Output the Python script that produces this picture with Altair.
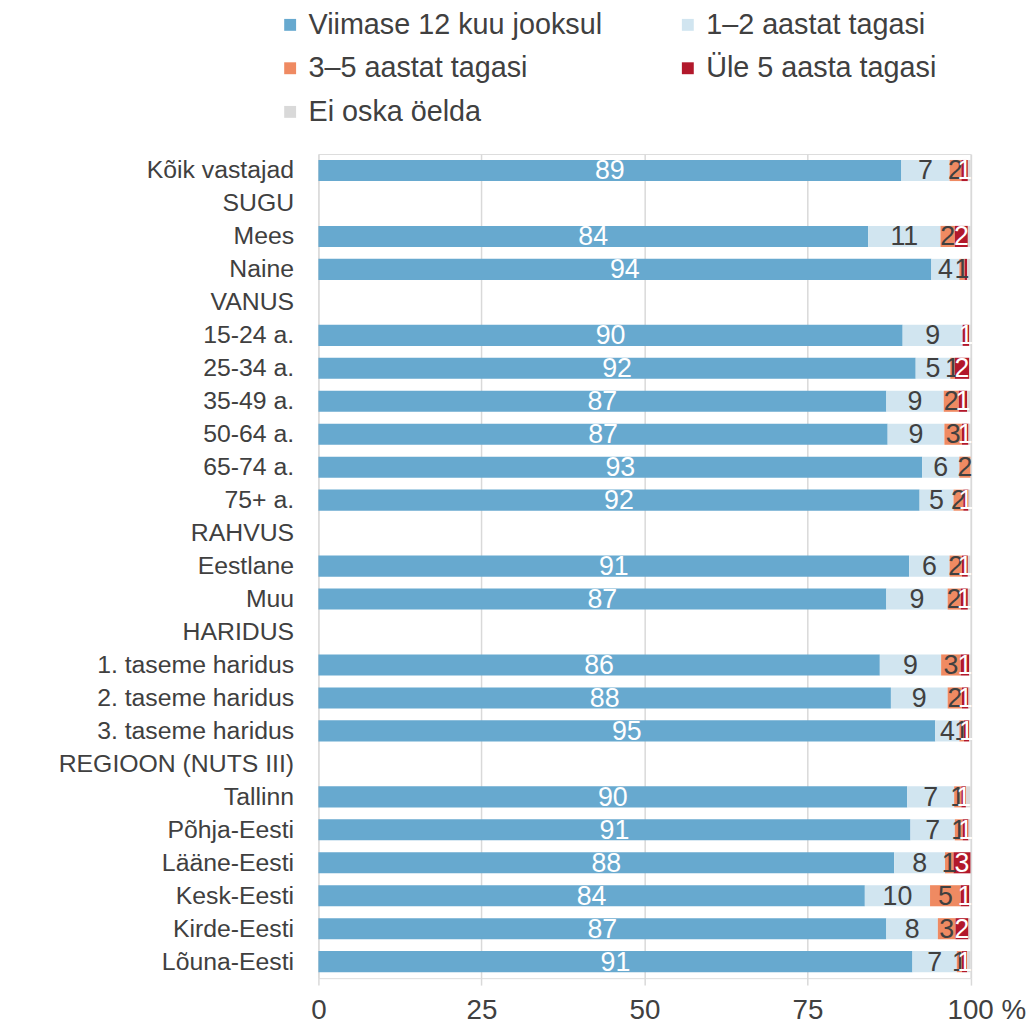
import altair as alt
import pandas as pd

categories = ["Kõik vastajad", "SUGU", "Mees", "Naine", "VANUS", "15-24 a.", "25-34 a.",
              "35-49 a.", "50-64 a.", "65-74 a.", "75+ a.", "RAHVUS", "Eestlane", "Muu",
              "HARIDUS", "1. taseme haridus", "2. taseme haridus", "3. taseme haridus",
              "REGIOON (NUTS III)", "Tallinn", "Põhja-Eesti", "Lääne-Eesti", "Kesk-Eesti",
              "Kirde-Eesti", "Lõuna-Eesti"]

bar_rows = ["Kõik vastajad", "Mees", "Naine", "15-24 a.", "25-34 a.", "35-49 a.", "50-64 a.",
            "65-74 a.", "75+ a.", "Eestlane", "Muu", "1. taseme haridus", "2. taseme haridus",
            "3. taseme haridus", "Tallinn", "Põhja-Eesti", "Lääne-Eesti", "Kesk-Eesti",
            "Kirde-Eesti", "Lõuna-Eesti"]

series = ["Viimase 12 kuu jooksul", "1–2 aastat tagasi", "3–5  aastat tagasi",
          "Üle 5 aasta tagasi", "Ei oska öelda"]
colors = ["#67a9cf", "#d1e5f0", "#ef8a62", "#b2182b", "#d9d9d9"]
label_colors = ["#ffffff", "#404040", "#404040", "#ffffff", "#404040"]

viimase = [89.4, 84.3, 94.0, 89.6, 91.6, 87.1, 87.3, 92.6, 92.2, 90.6, 87.1, 86.1, 87.8, 94.6,
           90.3, 90.8, 88.3, 83.8, 87.1, 91.1]
aastat_1_2 = [7.4, 11.1, 4.3, 9.2, 5.3, 8.8, 8.7, 5.7, 5.2, 6.2, 9.4, 9.4, 8.7, 3.7,
              7.2, 6.8, 7.8, 10.0, 7.9, 6.8]
aastat_3_5 = [1.8, 2.2, 0.8, 0.0, 0.7, 2.3, 2.7, 1.7, 1.5, 1.9, 2.0, 3.0, 2.2, 0.7,
              1.1, 1.2, 1.3, 4.7, 2.7, 0.8]
yle_5 = [1.0, 2.0, 0.4, 1.0, 2.2, 1.3, 1.0, 0.0, 0.8, 0.9, 1.1, 1.3, 1.0, 0.8,
         0.7, 0.9, 2.6, 1.3, 2.0, 0.8]
ei_oska = [0.4, 0.4, 0.5, 0.2, 0.2, 0.5, 0.3, 0.0, 0.3, 0.4, 0.4, 0.2, 0.3, 0.2,
           0.7, 0.3, 0.0, 0.2, 0.3, 0.5]

values_by_series = [viimase, aastat_1_2, aastat_3_5, yle_5, ei_oska]

records = []
for si, (s, vals) in enumerate(zip(series, values_by_series)):
    for cat, v in zip(bar_rows, vals):
        r = int(v + 0.5)
        records.append({
            "cat": cat,
            "series": s,
            "value": v,
            "order": si,
            "tc": label_colors[si],
            "showlab": 1 if (si < 4 and r >= 1) else 0,
            "lab": str(r),
        })
df = pd.DataFrame(records)

FONT = "Liberation Sans"
ydomain = alt.Scale(domain=categories, paddingInner=0.36, paddingOuter=0.18)

y_enc = alt.Y("cat:N", scale=ydomain,
              axis=alt.Axis(title=None, labelFontSize=25, labelColor="#404040", labelPadding=25,
                            ticks=False, domain=False, labelLimit=400, labelFont=FONT,
                            grid=False))

x_axis = alt.Axis(title=None, values=[0, 25, 50, 75, 100], grid=True, gridColor="#d9d9d9",
                  gridWidth=1.5, domain=False, ticks=True, tickColor="#d9d9d9", tickSize=7,
                  tickWidth=1.5, labelFontSize=28, labelColor="#404040", labelFont=FONT,
                  labelPadding=12, labelFlush=False, labelOverlap=False,
                  labelExpr="datum.value == 100 ? '100 %' : datum.label",
                  labelOffset={"condition": {"test": "datum.value == 100", "value": 16}, "value": 0})

bars = alt.Chart(df).mark_bar().encode(
    y=y_enc,
    x=alt.X("value:Q", stack="zero", scale=alt.Scale(domain=[0, 100], nice=False), axis=x_axis),
    color=alt.Color("series:N", scale=alt.Scale(domain=series, range=colors),
                    legend=alt.Legend(orient="none", legendX=-43, legendY=-145, columns=2,
                                      direction="horizontal", title=None, symbolType="square",
                                      symbolSize=144, symbolStrokeWidth=0, symbolOpacity=1,
                                      labelFontSize=29, labelColor="#404040", labelFont=FONT,
                                      labelLimit=500, labelOffset=4, rowPadding=14,
                                      columnPadding=71, padding=0)),
    order=alt.Order("order:Q", sort="ascending"),
)

labels = alt.Chart(df).transform_stack(
    stack="value", groupby=["cat"], as_=["v0", "v1"],
    sort=[alt.SortField("order", order="ascending")]
).transform_filter("datum.showlab == 1").transform_calculate(
    mid="(datum.v0 + datum.v1) / 2"
).mark_text(fontSize=27, font=FONT, align="center", baseline="middle", dy=1).encode(
    y=alt.Y("cat:N", scale=ydomain),
    x=alt.X("mid:Q", title=None),
    text="lab:N",
    color=alt.Color("tc:N", scale=None),
)

chart = alt.layer(bars, labels).properties(
    width=657.5, height=831,
    padding={"left": 313, "top": 143, "right": 56, "bottom": 45},
    autosize=alt.AutoSizeParams(type="none"),
).configure_view(stroke=None).configure(font=FONT)

chart.save("out.html", embed_options={"renderer": "svg", "actions": False})
